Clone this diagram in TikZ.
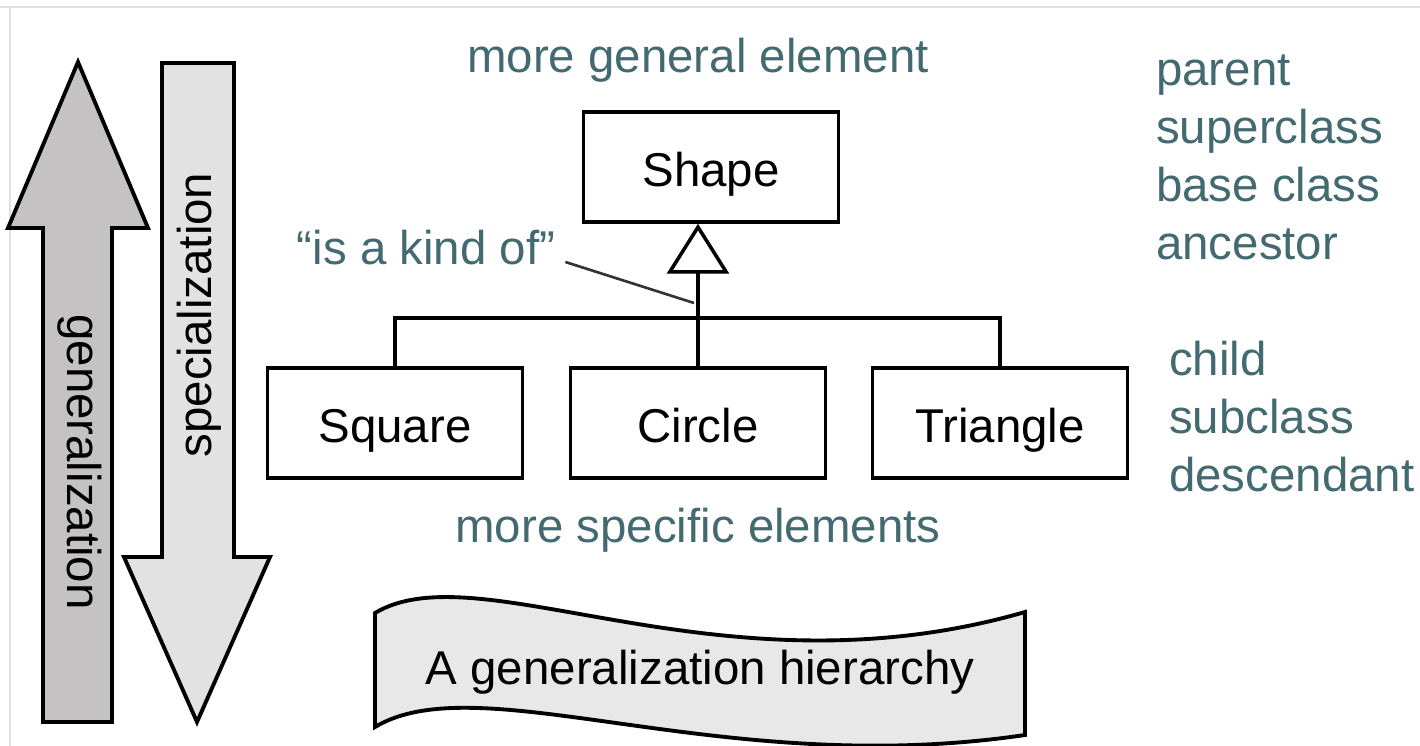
\documentclass[tikz,border=0pt]{standalone}
\usepackage{fontspec}
\setmainfont{Liberation Sans}
\usepackage{tikz}
\usetikzlibrary{
    arrows.meta,
    calc,
    positioning
}

\definecolor{labelteal}{RGB}{66,106,112}
\definecolor{upgray}{RGB}{196,194,194}
\definecolor{downgray}{RGB}{226,226,226}
\definecolor{bannergray}{RGB}{232,232,232}

\tikzset{
    every node/.style={font=\fontsize{27}{33}\selectfont},
    classbox/.style={draw, line width=2pt, minimum width=5.1cm, minimum height=2.2cm,
        text height=0.78cm, text depth=0cm},
    tealtext/.style={text=labelteal},
    bigarrow/.style={draw, line width=2.2pt, line join=miter},
    gen/.style={line width=2pt, -{Triangle[open, length=1cm, width=1.24cm, line width=2pt]}}
}

\begin{document}
\begin{tikzpicture}[x=0.02cm, y=-0.02cm]
\useasboundingbox (0,0) rectangle (1420,746);

% Frame edges
\draw[black!12, line width=1.5pt] (0,7) -- (1420,7);
\draw[black!12, line width=1.5pt] (10,7) -- (10,746);

% Big arrows
\draw[bigarrow, fill=upgray] (43,722) -- (43,228) -- (8,228) -- (78,62)
    -- (148,228) -- (112,228) -- (112,722) -- cycle;
\draw[bigarrow, fill=downgray] (162,63) -- (234,63) -- (234,557) -- (270,557)
    -- (197,722) -- (124,557) -- (162,557) -- cycle;
\node[rotate=-90] (genword) at (80,462) {generalization};
\node[rotate=90] (specword) at (199,315) {specialization};

% Classes
\node[classbox] (shape) at (711,167) {Shape};
\node[classbox] (square) at (395,423) {Square};
\node[classbox] (circle) at (698,423) {Circle};
\node[classbox] (triangle) at (1000,423) {Triangle};

% Tree
\coordinate (bus) at (698,318);
\draw[line width=2pt] (square.north) |- (bus) -| (triangle.north);
\draw[line width=2pt] (circle.north) -- (bus);
\draw[gen] (bus) -- (circle.north |- shape.south);

% Labels
\node[tealtext] (general) at (698,60) {more general element};
\node[tealtext] (specific) at (698,530) {more specific elements};
\node[tealtext] (kind) at (426,248) {``is a kind of''};
\coordinate (touch) at (694,303);
\draw[line width=1.5pt, black!80] ($(kind.east)+(4,14)$) -- (touch);

\node[tealtext, anchor=west, align=left] (parentterms) at (1150,157)
    {parent\\superclass\\base class\\ancestor};
\node[tealtext, anchor=west, align=left] (childterms) at (1163,417)
    {child\\subclass\\descendant};

% Banner
\draw[line width=2.2pt, fill=bannergray]
    (375,613) .. controls (480,550) and (720,700) .. (1025,612)
    -- (1025,735) .. controls (720,780) and (480,664) .. (375,727) -- cycle;
\node (banner) at (700,672) {A generalization hierarchy};
\end{tikzpicture}
\end{document}
